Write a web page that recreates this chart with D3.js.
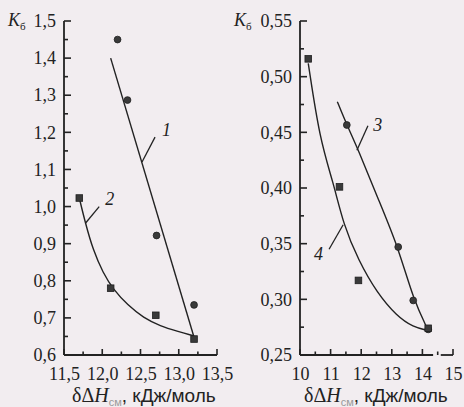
<!DOCTYPE html>
<html>
<head>
<meta charset="utf-8">
<script src="https://cdn.jsdelivr.net/npm/d3@7"></script>
<style>
  body { margin: 0; background: #f2edf0; }
  svg { display: block; }
  text { fill: #222; }
</style>
</head>
<body>
<div id="chart"></div>
<script>
"use strict"

// ---- data ----
// left panel
const leftXTicks = [11.5, 12.0, 12.5, 13.0, 13.5]
const leftYTicks = [0.6, 0.7, 0.8, 0.9, 1.0, 1.1, 1.2, 1.3, 1.4, 1.5]
const s1Points = [[12.20, 1.45], [12.33, 1.287], [12.71, 0.922], [13.20, 0.735]]   // circles
const s2Points = [[11.70, 1.023], [12.11, 0.780], [12.70, 0.707], [13.20, 0.643]] // squares
const line1 = [[12.11, 1.40], [13.20, 0.648]]
const curve2 = [[11.70, 1.023], [11.78, 0.955], [11.88, 0.883], [12.01, 0.821], [12.15, 0.775],
  [12.33, 0.735], [12.54, 0.700], [12.76, 0.678], [12.98, 0.664], [13.19, 0.652]]

// right panel
const rightXTicks = [10, 11, 12, 13, 14, 15]
const rightYTicks = [0.25, 0.30, 0.35, 0.40, 0.45, 0.50, 0.55]
const s3Points = [[11.53, 0.4566], [13.21, 0.347], [13.70, 0.299], [14.19, 0.273]]  // circles
const s4Points = [[10.27, 0.516], [11.29, 0.401], [11.91, 0.317], [14.19, 0.274]]   // squares
const curve3 = [[11.22, 0.4775], [11.53, 0.4566], [11.91, 0.434], [12.51, 0.393],
  [13.21, 0.347], [13.70, 0.300], [14.19, 0.272]]
const curve4 = [[10.27, 0.512], [10.65, 0.443], [11.09, 0.405], [11.42, 0.367], [11.91, 0.335],
  [12.51, 0.306], [13.16, 0.285], [13.70, 0.275], [14.19, 0.272]]

// curve labels: [text, textX, textY, leaderFrom, leaderTo]
const leftLabels = [["1", 12.78, 1.19, [12.52, 1.12], [12.69, 1.187]],
                    ["2", 12.04, 1.004, [11.78, 0.955], [11.96, 1.0]]]
const rightLabels = [["3", 12.39, 0.451, [11.86, 0.434], [12.22, 0.456]],
                     ["4", 10.46, 0.335, [10.95, 0.345], [11.41, 0.367]]]

const W = 464, H = 407
const ink = "#222"

const svg = d3.select("#chart").append("svg")
  .attr("width", W).attr("height", H)

svg.append("rect").attr("width", W).attr("height", H).attr("fill", "#f2edf0")

function fmt(v, dec) { return v.toFixed(dec).replace(".", ",") }

function drawPanel(p) {
  const x = d3.scaleLinear().domain(p.xDomain).range(p.xRange)
  const y = d3.scaleLinear().domain(p.yDomain).range(p.yRange)
  const g = svg.append("g")
  const x0 = p.xRange[0], y0 = p.yRange[0]

  // minor ticks (halfway between labelled ones)
  const xMinor = d3.pairs(p.xTicks).map(d => (d[0] + d[1]) / 2)
  const yMinor = d3.pairs(p.yTicks).map(d => (d[0] + d[1]) / 2)

  // x axis labels
  const xAxis = g.append("g").attr("transform", "translate(0," + y0 + ")")
    .call(d3.axisBottom(x).tickValues(p.xTicks).tickSize(0).tickPadding(12)
      .tickFormat(d => fmt(d, p.xDec)))
  xAxis.select(".domain").remove()
  xAxis.selectAll("text").attr("font-family", "Liberation Serif").attr("font-size", 18).attr("fill", "#222")

  // y axis labels
  const yAxis = g.append("g").attr("transform", "translate(" + x0 + ",0)")
    .call(d3.axisLeft(y).tickValues(p.yTicks).tickSize(0).tickPadding(8)
      .tickFormat(d => fmt(d, p.yDec)))
  yAxis.select(".domain").remove()
  yAxis.selectAll("text").attr("font-family", "Liberation Serif").attr("font-size", 18).attr("fill", "#222")

  // axis lines
  g.append("line").attr("x1", x0).attr("x2", x0).attr("y1", p.yRange[1]).attr("y2", y0)
    .attr("stroke", ink).attr("stroke-width", 1.8)
  p.xSegments.forEach(s => {
    g.append("line").attr("x1", x(s[0])).attr("x2", x(s[1])).attr("y1", y0).attr("y2", y0)
      .attr("stroke", ink).attr("stroke-width", 1.8)
  })

  // ticks pointing inwards
  g.selectAll(null).data(p.xTicks.map(v => [v, 6]).concat(xMinor.map(v => [v, 3.5]))).enter()
    .append("line").attr("class", "tk")
    .attr("x1", d => x(d[0])).attr("x2", d => x(d[0]))
    .attr("y1", y0).attr("y2", d => y0 - d[1])
    .attr("stroke", ink).attr("stroke-width", 1.6)
  g.selectAll(null).data(p.yTicks.map(v => [v, 7]).concat(yMinor.map(v => [v, 4]))).enter()
    .append("line").attr("class", "tk")
    .attr("x1", x0).attr("x2", d => x0 + d[1])
    .attr("y1", d => y(d[0])).attr("y2", d => y(d[0]))
    .attr("stroke", ink).attr("stroke-width", 1.6)

  // K_б label
  const k = g.append("text").attr("x", p.kX).attr("y", y(p.yDomain[1]) + 5)
    .attr("font-family", "Liberation Serif").attr("font-size", 18)
  k.append("tspan").attr("font-style", "italic").text("K")
  k.append("tspan").attr("font-size", 11).attr("dy", 4).text("б")

  // x title
  const t = g.append("text").attr("x", p.titleX).attr("y", 402)
    .attr("font-family", "Liberation Sans").attr("font-size", 19)
  t.append("tspan").attr("font-family", "Liberation Serif").attr("font-size", 20).text("δΔ")
  t.append("tspan").attr("font-family", "Liberation Serif").attr("font-size", 20).attr("font-style", "italic").text("H")
  t.append("tspan").attr("font-size", 11).attr("dy", 4).attr("fill", "#999").text("см")
  t.append("tspan").attr("dy", -4).text(", кДж/моль")

  const line = d3.line().x(d => x(d[0])).y(d => y(d[1]))
  p.lines.forEach(l => {
    g.append("path").attr("d", line.curve(l.curve)(l.pts))
      .attr("fill", "none").attr("stroke", ink).attr("stroke-width", 1.4)
  })

  g.selectAll(".c").data(p.circles).enter().append("circle")
    .attr("cx", d => x(d[0])).attr("cy", d => y(d[1])).attr("r", 3.4)
    .attr("fill", "#3a3a3a").attr("stroke", "#1f1f1f").attr("stroke-width", 0.8)
  g.selectAll(".s").data(p.squares).enter().append("rect")
    .attr("x", d => x(d[0]) - 3.3).attr("y", d => y(d[1]) - 3.3)
    .attr("width", 6.6).attr("height", 6.6)
    .attr("fill", "#3a3a3a").attr("stroke", "#1f1f1f").attr("stroke-width", 0.8)

  p.labels.forEach(l => {
    g.append("line").attr("x1", x(l[3][0])).attr("y1", y(l[3][1]))
      .attr("x2", x(l[4][0])).attr("y2", y(l[4][1]))
      .attr("stroke", ink).attr("stroke-width", 1.3)
    g.append("text").attr("x", x(l[1])).attr("y", y(l[2]))
      .attr("font-family", "Liberation Serif").attr("font-style", "italic")
      .attr("font-size", 18).text(l[0])
  })
}

drawPanel({
  xDomain: [11.5, 13.5], xRange: [64, 217],
  yDomain: [0.6, 1.5], yRange: [355, 21],
  xTicks: leftXTicks, yTicks: leftYTicks, xDec: 1, yDec: 1,
  xSegments: [[11.5, 13.5]],
  kX: 8, titleX: 72,
  lines: [{pts: line1, curve: d3.curveLinear}, {pts: curve2, curve: d3.curveBasis}],
  circles: s1Points, squares: s2Points, labels: leftLabels
})

drawPanel({
  xDomain: [10, 15], xRange: [300, 453],
  yDomain: [0.25, 0.55], yRange: [355, 21],
  xTicks: rightXTicks, yTicks: rightYTicks, xDec: 0, yDec: 2,
  xSegments: [[10, 14.35], [14.6, 15]],
  kX: 234, titleX: 304,
  lines: [{pts: curve3, curve: d3.curveBasis}, {pts: curve4, curve: d3.curveBasis}],
  circles: s3Points, squares: s4Points, labels: rightLabels
})
</script>
</body>
</html>
